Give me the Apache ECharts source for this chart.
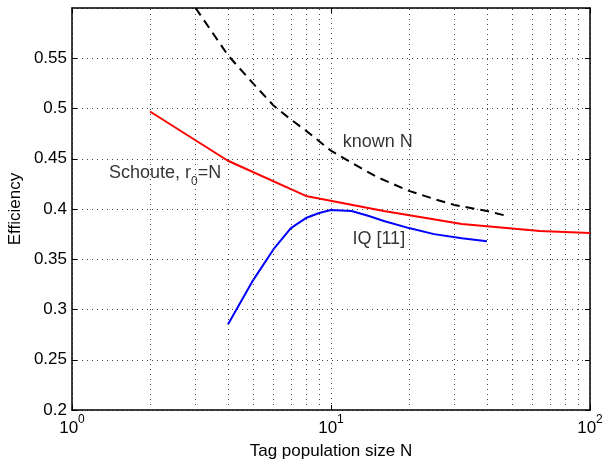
<!DOCTYPE html>
<html>
<head>
<meta charset="utf-8">
<script src="https://cdn.jsdelivr.net/npm/echarts@6/dist/echarts.min.js"></script>
<style>
  html, body { margin: 0; padding: 0; background: #fff; }
  #chart { width: 605px; height: 461px; }
</style>
</head>
<body>
<div id="chart"></div>
<script>
// values
const schouteN = [2, 4, 8, 16, 32, 64, 100]
const schouteEff = [0.497, 0.448, 0.413, 0.398, 0.385, 0.378, 0.376]

const iqN = [4, 5, 6, 7, 8, 9, 10, 12, 14, 16, 20, 25, 32, 40]
const iqEff = [0.285, 0.329, 0.360, 0.381, 0.391, 0.396, 0.399, 0.398, 0.393, 0.388, 0.381, 0.375, 0.371, 0.368]

const knownN = [3, 4, 5, 6, 7, 8, 10, 12, 15, 20, 25, 30, 40, 48]
const knownEff = [0.600, 0.553, 0.525, 0.503, 0.489, 0.478, 0.458, 0.446, 0.432, 0.418, 0.410, 0.404, 0.398, 0.393]

const minorX = [2, 3, 4, 5, 6, 7, 8, 9, 20, 30, 40, 50, 60, 70, 80, 90]

const font = 'Liberation Sans, Arial, Helvetica, sans-serif'
const gridDots = {type: [1, 4], color: '#444', width: 1}

const pairs = (xs, ys) => xs.map((x, i) => [x, ys[i]])

const chart = echarts.init(document.getElementById('chart'))

chart.setOption({
  animation: false,
  textStyle: {fontFamily: font, color: '#000'},
  grid: {left: 72, right: 15, top: 8, bottom: 51, outerBoundsMode: 'none', containLabel: false},
  xAxis: [
    {
      type: 'log', logBase: 10, min: 1, max: 100,
      name: 'Tag population size N', nameLocation: 'middle', nameGap: 33,
      nameMoveOverlap: false,
      nameTextStyle: {fontSize: 17, fontFamily: font, color: '#000'},
      axisLine: {lineStyle: {color: '#000', width: 1.5}},
      axisTick: {inside: true, length: 5, lineStyle: {color: '#000'}},
      axisLabel: {
        margin: 4,
        formatter: v => '{b|10}{s|' + Math.round(Math.log10(v)) + '}',
        rich: {
          b: {fontSize: 17, fontFamily: font, color: '#000'},
          s: {fontSize: 12, fontFamily: font, color: '#000', padding: [0, 0, 16, 0]}
        }
      },
      splitLine: {show: true, lineStyle: gridDots}
    },
    {
      type: 'log', logBase: 10, min: 1, max: 100, position: 'top',
      axisLine: {lineStyle: {color: '#000', width: 1.5}},
      axisTick: {inside: true, length: 5, lineStyle: {color: '#000'}},
      axisLabel: {show: false},
      splitLine: {show: false}
    }
  ],
  yAxis: [
    {
      type: 'value', min: 0.2, max: 0.6, interval: 0.05,
      name: 'Efficiency', nameLocation: 'middle', nameGap: 48,
      nameMoveOverlap: false,
      nameTextStyle: {fontSize: 17, fontFamily: font, color: '#000'},
      axisLine: {show: true, lineStyle: {color: '#000', width: 1.5}},
      axisTick: {show: true, inside: true, length: 5, lineStyle: {color: '#000'}},
      axisLabel: {
        fontSize: 17, color: '#000', margin: 5, showMaxLabel: false,
        formatter: v => String(+v.toFixed(2))
      },
      splitLine: {show: true, lineStyle: gridDots}
    },
    {
      type: 'value', min: 0.2, max: 0.6, interval: 0.05, position: 'right',
      axisLine: {show: true, lineStyle: {color: '#000', width: 1.5}},
      axisTick: {show: true, inside: true, length: 5, lineStyle: {color: '#000'}},
      axisLabel: {show: false},
      splitLine: {show: false}
    }
  ],
  series: [
    {
      // minor log grid lines
      type: 'line', data: [], silent: true, z: 1,
      markLine: {
        silent: true, symbol: 'none', label: {show: false},
        lineStyle: gridDots, emphasis: {disabled: true},
        data: minorX.map(v => ({xAxis: v}))
      }
    },
    {
      name: 'known N', type: 'line', data: pairs(knownN, knownEff),
      showSymbol: false, z: 3,
      lineStyle: {color: '#000', width: 2, type: [9, 6]}
    },
    {
      name: 'Schoute', type: 'line', data: pairs(schouteN, schouteEff),
      showSymbol: false, z: 3,
      lineStyle: {color: '#ff0000', width: 2}
    },
    {
      name: 'IQ', type: 'line', data: pairs(iqN, iqEff),
      showSymbol: false, z: 3,
      lineStyle: {color: '#0000ff', width: 2}
    },
    {
      // curve labels
      type: 'scatter', symbolSize: 0, silent: true, z: 4,
      label: {
        show: true, position: 'right', distance: 0,
        fontSize: 18, fontFamily: font, color: '#000',
        formatter: p => p.data.text,
        rich: {
          a: {fontSize: 18, fontFamily: font, color: '#000'},
          sub: {fontSize: 12, fontFamily: font, color: '#000', padding: [18, 0, 0, 0]}
        }
      },
      data: [
        {value: [11.1, 0.467], text: 'known N'},
        {value: [12.1, 0.370], text: 'IQ [11]'},
        {value: [1.39, 0.436], text: '{a|Schoute, r}{sub|0}{a|=N}'}
      ]
    }
  ]
})
</script>
</body>
</html>
